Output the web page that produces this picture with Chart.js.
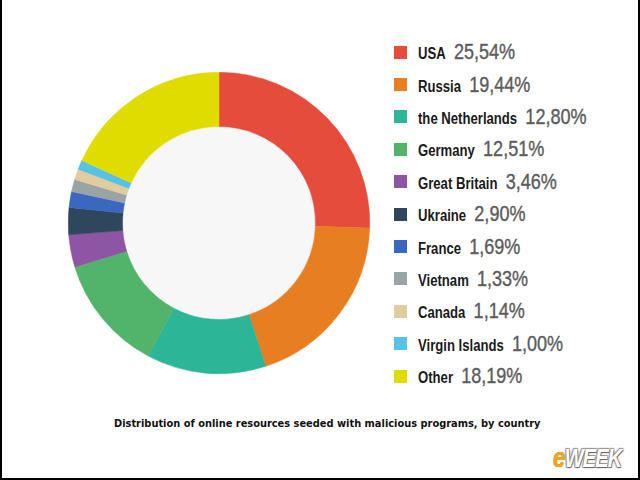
<!DOCTYPE html>
<html>
<head>
<meta charset="utf-8">
<script src="https://cdn.jsdelivr.net/npm/chart.js@4.4.0/dist/chart.umd.min.js"></script>
<style>
  html, body { margin: 0; padding: 0; background: #fff; }
  #frame {
    position: relative; width: 640px; height: 480px; box-sizing: border-box;
    border-left: 2px solid #000; border-right: 2px solid #000; border-bottom: 2px solid #000;
    overflow: hidden; background: #fff;
  }
  #chartBox { position: absolute; left: 66px; top: 72px; width: 302px; height: 302px; }
  #legend { position: absolute; left: 392px; top: 36px; }
  .row { height: 32.4px; display: flex; align-items: center; white-space: nowrap; }
  .sw { width: 13px; height: 13px; margin-right: 11px; flex: none; }
  .txt { transform: scaleX(0.82); transform-origin: left center; display: flex; align-items: baseline; }
  .lab { font-family: "Liberation Sans", sans-serif; font-weight: bold;
         font-size: 16px; color: #1a1a1a; margin-right: 10px; }
  .val { font-family: "Liberation Sans", sans-serif;
         font-size: 22px; color: #5c5c5c; -webkit-text-stroke: 0.4px #5c5c5c; }
  #caption { position: absolute; left: 112px; top: 418px; font-family: "DejaVu Sans", sans-serif;
             font-weight: bold; font-size: 9.85px; color: #111; white-space: nowrap; }
  #logo { position: absolute; left: 551px; top: 442px; font-family: "Liberation Sans", sans-serif;
          font-weight: bold; font-style: italic; font-size: 25px; letter-spacing: -1px;
          transform: scaleX(0.8); transform-origin: left top; white-space: nowrap; }
  #logo .e { color: #f0a818; font-size: 28px; text-shadow: 0 0 1px #a06000; }
  #logo .w { color: #fff; text-shadow: 1px 1px 1px #666, -1px -1px 1px #999, 1px -1px 1px #999, -1px 1px 1px #999; }
</style>
</head>
<body>
<div id="frame">
  <div id="chartBox"><canvas id="donut"></canvas></div>
  <div id="legend"></div>
  <div id="caption">Distribution of online resources seeded with malicious programs, by country</div>
  <div id="logo"><span class="e">e</span><span class="w">WEEK</span></div>
</div>
<script>
// Data
const countries = ['USA', 'Russia', 'the Netherlands', 'Germany', 'Great Britain', 'Ukraine',
  'France', 'Vietnam', 'Canada', 'Virgin Islands', 'Other'];
const shares = [25.54, 19.44, 12.80, 12.51, 3.46, 2.90, 1.69, 1.33, 1.14, 1.00, 18.19];
const shareLabels = ['25,54%', '19,44%', '12,80%', '12,51%', '3,46%', '2,90%',
  '1,69%', '1,33%', '1,14%', '1,00%', '18,19%'];
const colors = ['#e64c3c', '#e77e22', '#2cb597', '#52b36b', '#8e55a5', '#2f475e',
  '#3a67bf', '#9aa3a5', '#e2cc9f', '#56c2e8', '#e0dc00'];

// Light grey fill in the hole
const holeFill = {
  id: 'holeFill',
  beforeDatasetsDraw(chart) {
    const arc = chart.getDatasetMeta(0).data[0];
    if (!arc) return;
    const ctx = chart.ctx;
    ctx.save();
    ctx.beginPath();
    ctx.arc(arc.x, arc.y, arc.innerRadius, 0, Math.PI * 2);
    ctx.fillStyle = '#f7f7f7';
    ctx.fill();
    ctx.restore();
  }
};

const donut = new Chart(document.getElementById('donut'), {
  type: 'doughnut',
  data: {
    labels: countries,
    datasets: [{
      data: shares,
      backgroundColor: colors,
      borderColor: colors,
      borderWidth: 0.5,
      hoverOffset: 0
    }]
  },
  options: {
    responsive: true,
    maintainAspectRatio: false,
    animation: false,
    cutout: '64%',
    layout: { padding: 0 },
    plugins: {
      legend: { display: false },
      tooltip: { enabled: false }
    }
  },
  plugins: [holeFill]
});

// Legend
const legend = document.getElementById('legend');
countries.forEach((name, i) => {
  const row = document.createElement('div');
  row.className = 'row';
  row.innerHTML = '<div class="sw" style="background:' + colors[i] + '"></div>' +
    '<div class="txt"><span class="lab">' + name + '</span><span class="val">' + shareLabels[i] + '</span></div>';
  legend.appendChild(row);
});
</script>
</body>
</html>
